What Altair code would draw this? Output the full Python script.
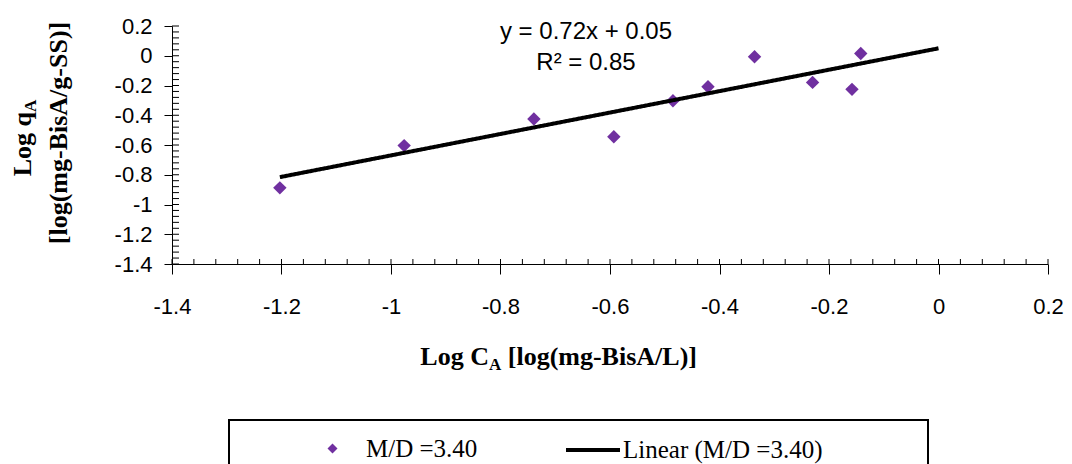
import altair as alt
import pandas as pd

# ---------------- data ----------------
log_ca = [-1.203, -0.976, -0.739, -0.593, -0.485, -0.421, -0.336, -0.230, -0.158, -0.142]
log_qa = [-0.888, -0.604, -0.425, -0.544, -0.302, -0.208, -0.007, -0.179, -0.226, 0.015]
series_name = "M/D =3.40"
trend_name = "Linear (M/D =3.40)"
trend_x = [-1.203, 0.0]
trend_y = [-0.816, 0.05]
axis_ticks = [-1.4, -1.2, -1.0, -0.8, -0.6, -0.4, -0.2, 0.0, 0.2]
minor_ticks = [round(-1.4 + 0.04 * i, 2) for i in range(41)]
equation_lines = ["y = 0.72x + 0.05", "R\u00b2 = 0.85"]
x_title_parts = ["Log C", "A", "[log(mg-BisA/L)]"]
y_title_line1 = ["Log q", "A"]
y_title_line2 = "[log(mg-BisA/g-SS)]"

# ---------------- style ----------------
W, H = 876, 238
PURPLE = "#7030A0"
SERIF = "Liberation Serif"
SANS = "Liberation Sans"
TITLE_FS = 26
SUB_FS = 17
LEGEND_FS = 25

xs = alt.Scale(domain=[-1.4, 0.2], nice=False, zero=False)
ys = alt.Scale(domain=[-1.4, 0.2], nice=False, zero=False)
label_expr = "replace(format(datum.value, '.1~f'), '\u2212', '-')"

common_axis = dict(
    values=axis_ticks, title=None, labelExpr=label_expr, grid=False,
    labelFont=SANS, labelFontSize=22, labelColor="black",
    domainColor="black", domainWidth=1, tickColor="black", tickWidth=1,
    labelFlush=False, labelOverlap=False,
)
x_axis = alt.Axis(tickSize=10, labelPadding=22, **common_axis)
y_axis = alt.Axis(tickSize=8, labelPadding=12, **common_axis)

pts = pd.DataFrame({"log_ca": log_ca, "log_qa": log_qa,
                    "series": [series_name] * len(log_ca)})

points = alt.Chart(pts).mark_point(filled=True, opacity=1, size=180, shape="diamond").encode(
    x=alt.X("log_ca:Q", scale=xs, axis=x_axis),
    y=alt.Y("log_qa:Q", scale=ys, axis=y_axis),
    color=alt.Color(
        "series:N",
        scale=alt.Scale(domain=[series_name], range=[PURPLE]),
        legend=alt.Legend(
            orient="none", legendX=148, legendY=410, title=None,
            labelFont=SERIF, labelFontSize=LEGEND_FS, labelColor="black",
            labelOffset=21, symbolType="diamond", symbolSize=100,
            symbolStrokeWidth=0, padding=0, labelLimit=400,
        ),
    ),
)

trend_df = pd.DataFrame({"log_ca": trend_x, "log_qa": trend_y,
                         "fit": [trend_name] * len(trend_x)})
trend = alt.Chart(trend_df).mark_line(color="black", strokeWidth=4).encode(
    x=alt.X("log_ca:Q", scale=xs, axis=x_axis),
    y=alt.Y("log_qa:Q", scale=ys, axis=y_axis),
    strokeDash=alt.StrokeDash(
        "fit:N",
        scale=alt.Scale(domain=[trend_name], range=[[1, 0]]),
        legend=alt.Legend(
            orient="none", legendX=392, legendY=395, title=None,
            labelFont=SERIF, labelFontSize=LEGEND_FS, labelColor="black",
            labelOffset=1, symbolType="stroke", symbolSize=2916,
            symbolStrokeColor="black", symbolStrokeWidth=4,
            padding=0, labelLimit=400,
        ),
    ),
)

tick_df = pd.DataFrame({"t": minor_ticks})
x_minor = alt.Chart(tick_df).mark_rule(color="black", strokeWidth=1).encode(
    x=alt.X("t:Q", scale=xs, axis=x_axis), y=alt.value(H - 5), y2=alt.value(H)
)
y_minor = alt.Chart(tick_df).mark_rule(color="black", strokeWidth=1).encode(
    y=alt.Y("t:Q", scale=ys, axis=y_axis), x=alt.value(0), x2=alt.value(7)
)

one = pd.DataFrame({"k": [0]})

def txt(text, x, y, font, size, bold=False, align="left", angle=0, baseline="alphabetic"):
    kw = dict(font=font, fontSize=size, align=align, baseline=baseline, color="black", text=text)
    if bold:
        kw["fontWeight"] = "bold"
    if angle:
        kw["angle"] = angle
    return alt.Chart(one).mark_text(**kw).encode(x=alt.value(x), y=alt.value(y))

# equation annotation
eq1 = txt(equation_lines[0], 414, 12.5, SANS, 24, align="center")
eq2 = txt(equation_lines[1], 414, 44, SANS, 24, align="center")

# x-axis title with subscript
w_logc = 2.639 * TITLE_FS
w_sub = 0.722 * SUB_FS
w_space = 0.25 * TITLE_FS
w_rest = 7.226 * TITLE_FS
x0 = 386 - (w_logc + w_sub + w_space + w_rest) / 2
xt1 = txt(x_title_parts[0], x0, 339, SERIF, TITLE_FS, bold=True)
xt2 = txt(x_title_parts[1], x0 + w_logc, 344, SERIF, SUB_FS, bold=True)
xt3 = txt(x_title_parts[2], x0 + w_logc + w_sub + w_space, 339, SERIF, TITLE_FS, bold=True)

# y-axis title (rotated) with subscript
w_logq = 2.473 * TITLE_FS
y0 = 112 + (w_logq + w_sub) / 2
yt1 = txt(y_title_line1[0], -141, y0, SERIF, TITLE_FS, bold=True, angle=270)
yt2 = txt(y_title_line1[1], -136, y0 - w_logq, SERIF, SUB_FS, bold=True, angle=270)
yt3 = txt(y_title_line2, -105, 107, SERIF, TITLE_FS, bold=True, align="center", angle=270)

# legend frame
frame = alt.Chart(one).mark_rect(filled=False, color="black", strokeWidth=2).encode(
    x=alt.value(57), x2=alt.value(756), y=alt.value(394), y2=alt.value(480)
)

chart = alt.layer(
    points, trend, x_minor, y_minor, eq1, eq2, xt1, xt2, xt3, yt1, yt2, yt3, frame
).properties(
    width=W, height=H,
    padding={"left": 164, "top": 18, "right": 16, "bottom": 200},
    autosize=alt.AutoSizeParams(type="none"),
).configure_view(strokeWidth=0)

chart.save("out.html", embed_options={"renderer": "svg", "actions": False})
